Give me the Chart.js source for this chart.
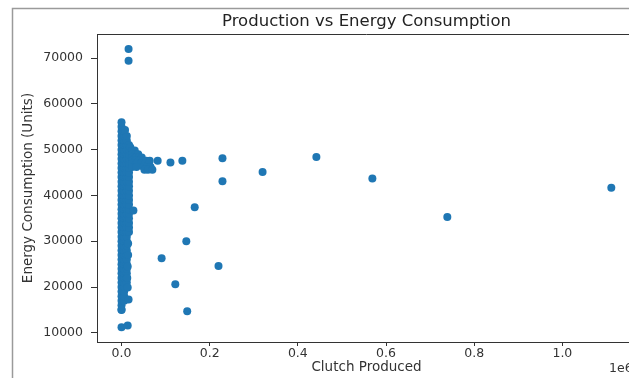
<!DOCTYPE html>
<html><head><meta charset="utf-8">
<script src="https://cdn.jsdelivr.net/npm/chart.js@4/dist/chart.umd.min.js"></script>
<style>html,body{margin:0;padding:0;overflow:hidden;background:#fff;width:629px;height:378px}canvas{display:block}</style>
</head><body>
<canvas id="c" width="645" height="378"></canvas>
<script>
const chartTitle = 'Production vs Energy Consumption';
const xAxisLabel = 'Clutch Produced';
const yAxisLabel = 'Energy Consumption (Units)';
const xOffsetLabel = '1e6';
const xTicks = [0, 0.2, 0.4, 0.6, 0.8, 1.0];
const yTicks = [10000, 20000, 30000, 40000, 50000, 60000, 70000];

// isolated points (x in millions of clutches, y in units)
const outlierX = [0.016, 0.016, 0.0, 0.008, 0.082, 0.111, 0.138, 0.229, 0.229, 0.32, 0.442, 0.569, 0.739, 1.111,
                  0.166, 0.147, 0.091, 0.220, 0.122, 0.149, 0.027, 0.0, 0.014, 0.0, 0.016, 0.014,
                  0.015, 0.015, 0.014, 0.013];
const outlierY = [72000, 69400, 56000, 54300, 47600, 47200, 47600, 48100, 43100, 45100, 48400, 43700, 35300, 41700,
                  37400, 30000, 26300, 24600, 20600, 14700, 36700, 11200, 11600, 15100, 17300, 19900,
                  29500, 27000, 24500, 22000];

// bulge of points to the right of the main band around 45000-51000
const bulgeX = [0.020, 0.024, 0.030, 0.024, 0.032, 0.038, 0.024, 0.032, 0.040, 0.046,
                0.024, 0.032, 0.040, 0.048, 0.056, 0.064, 0.024, 0.034, 0.044, 0.054, 0.062,
                0.024, 0.034, 0.050, 0.058, 0.066, 0.052, 0.060, 0.070];
const bulgeY = [50500, 49800, 49800, 49000, 49000, 49000, 48300, 48300, 48300, 48300,
                47600, 47600, 47600, 47600, 47600, 47600, 47000, 47000, 47000, 47000, 47000,
                46200, 46200, 46200, 46200, 46200, 45600, 45600, 45600];

// dense band near zero production
const bandColumnX = [0.0, 0.006, 0.012, 0.017];
const bandColumnY = [
  [15000,16000,17000,18000,19000,20000,21000,22000,23000,24000,25000,26000,27000,28000,29000,30000,31000,32000,33000,34000,35000,36000,37000,38000,39000,40000,41000,42000,43000,44000,45000,46000,47000,48000,49000,50000,51000,52000,53000,54000,55000],
  [17000,18000,19000,20000,21000,22000,23000,24000,25000,26000,27000,28000,29000,30000,31000,32000,33000,34000,35000,36000,37000,38000,39000,40000,41000,42000,43000,44000,45000,46000,47000,48000,49000,50000,51000,52000,53000,54000],
  [21000,22000,23000,24000,25000,26000,27000,28000,29000,30000,31000,32000,33000,34000,35000,36000,37000,38000,39000,40000,41000,42000,43000,44000,45000,46000,47000,48000,49000,50000,51000,52000,53000],
  [32000,33000,34000,35000,36000,37000,38000,39000,40000,41000,42000,43000,44000,45000,46000,47000,48000,49000,50000,51000]
];

const points = [];
bandColumnX.forEach((x, i) => bandColumnY[i].forEach(y => points.push({x, y})));
bulgeX.forEach((x, i) => points.push({x, y: bulgeY[i]}));
outlierX.forEach((x, i) => points.push({x, y: outlierY[i]}));

const FONT = 'DejaVu Sans';
const frame = {
  id: 'frame',
  beforeDraw(chart) {
    const ctx = chart.ctx;
    ctx.save();
    ctx.strokeStyle = '#9a9a9a';
    ctx.lineWidth = 1.5;
    ctx.beginPath();
    ctx.moveTo(12.5, 378); ctx.lineTo(12.5, 8.5); ctx.lineTo(645, 8.5);
    ctx.stroke();
    ctx.restore();
  },
  afterDraw(chart) {
    const ctx = chart.ctx, a = chart.chartArea;
    ctx.save();
    ctx.strokeStyle = '#333';
    ctx.lineWidth = 1;
    ctx.beginPath();
    ctx.moveTo(a.left, a.top + 0.5); ctx.lineTo(a.right, a.top + 0.5);
    ctx.moveTo(a.right - 0.5, a.top); ctx.lineTo(a.right - 0.5, a.bottom);
    ctx.stroke();
    ctx.fillStyle = '#222';
    ctx.font = '16.5px "' + FONT + '"';
    ctx.textAlign = 'center';
    ctx.textBaseline = 'middle';
    ctx.fillText(chartTitle, (a.left + a.right) / 2, 22);
    ctx.fillStyle = '#333';
    ctx.font = '12.5px "' + FONT + '"';
    ctx.textAlign = 'left';
    ctx.fillText(xOffsetLabel, 609, 369);
    ctx.restore();
  }
};

new Chart(document.getElementById('c'), {
  type: 'scatter',
  data: { datasets: [{ data: points, backgroundColor: '#1f77b4', borderWidth: 0, pointRadius: 4, pointHoverRadius: 4 }] },
  options: {
    responsive: false, animation: false, devicePixelRatio: 1,
    layout: { padding: { left: 0, right: 9, top: 34, bottom: 0 } },
    plugins: { legend: { display: false }, tooltip: { enabled: false }, title: { display: false } },
    scales: {
      x: {
        type: 'linear', min: -0.0556, max: 1.167,
        afterBuildTicks: s => { s.ticks = xTicks.map(v => ({ value: v })); },
        afterFit: s => { s.height = 36; },
        ticks: { callback: v => v.toFixed(1), color: '#333', font: { family: FONT, size: 12.5 }, padding: 0, maxRotation: 0 },
        grid: { drawOnChartArea: false, drawTicks: true, tickLength: 4, tickColor: '#333' },
        border: { display: true, color: '#333' },
        title: { display: true, text: xAxisLabel, color: '#333', font: { family: FONT, size: 13.5 }, padding: { top: 0, bottom: 2 } }
      },
      y: {
        type: 'linear', min: 8000, max: 75250,
        afterBuildTicks: s => { s.ticks = yTicks.map(v => ({ value: v })); },
        afterFit: s => { s.width = 97; },
        ticks: { callback: v => String(v), color: '#333', font: { family: FONT, size: 12.5 }, padding: 8 },
        grid: { drawOnChartArea: false, drawTicks: true, tickLength: 6, tickColor: '#333' },
        border: { display: true, color: '#333' },
        title: { display: true, text: yAxisLabel, color: '#333', font: { family: FONT, size: 13.5 }, padding: { top: 20, bottom: 0 } }
      }
    }
  },
  plugins: [frame]
});
</script>
</body></html>
